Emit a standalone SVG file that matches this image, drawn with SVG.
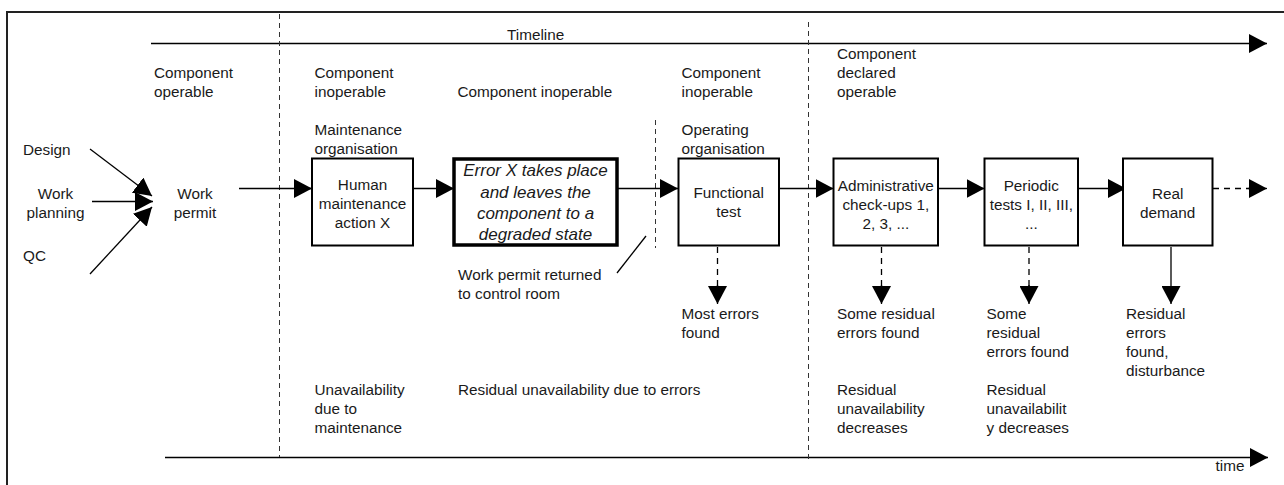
<svg xmlns="http://www.w3.org/2000/svg" width="1284" height="485" viewBox="0 0 1284 485">
<style>
text{font-family:"Liberation Sans",Arial,sans-serif;font-size:15.3px;fill:#1a1a1a}
.c{text-anchor:middle}
.it{font-style:italic;font-size:17px}
.box{fill:#fff;stroke:#000;stroke-width:2}
.thick{stroke-width:3.5}
.ln{stroke:#000;stroke-width:1.3;fill:none}
.dash{stroke:#333;stroke-width:1;fill:none;stroke-dasharray:5 4}
.dl{stroke:#000;stroke-width:1.3;fill:none;stroke-dasharray:6 5}
</style>
<defs>
<marker id="ah" markerUnits="userSpaceOnUse" markerWidth="19" markerHeight="19" refX="18" refY="9.5" orient="auto" viewBox="0 0 19 19">
<path d="M0,0 L18,9.5 L0,19 z" fill="#000"/>
</marker>
</defs>
<rect x="7" y="12" width="1300" height="500" fill="#fff" stroke="#222" stroke-width="2"/>
<g id="connectors">
<line class="ln" x1="151" y1="43.5" x2="1267" y2="43.5" marker-end="url(#ah)"/>
<line class="ln" x1="165" y1="457.5" x2="1268" y2="457.5" marker-end="url(#ah)"/>
<line class="dash" x1="279.5" y1="14" x2="279.5" y2="457"/>
<line class="dash" x1="808.5" y1="22" x2="808.5" y2="459"/>
<line class="dash" x1="655.5" y1="120" x2="655.5" y2="248"/>
<line class="ln" x1="90" y1="149" x2="152" y2="196" marker-end="url(#ah)"/>
<line class="ln" x1="92" y1="201.5" x2="153" y2="201.5" marker-end="url(#ah)"/>
<line class="ln" x1="90" y1="274" x2="152" y2="207" marker-end="url(#ah)"/>
<line class="ln" x1="239" y1="188.5" x2="312" y2="188.5" marker-end="url(#ah)"/>
<line class="ln" x1="413" y1="188.5" x2="454" y2="188.5" marker-end="url(#ah)"/>
<line class="ln" x1="617" y1="188.5" x2="678" y2="188.5" marker-end="url(#ah)"/>
<line class="ln" x1="779" y1="188.5" x2="833.5" y2="188.5" marker-end="url(#ah)"/>
<line class="ln" x1="938" y1="188.5" x2="984.5" y2="188.5" marker-end="url(#ah)"/>
<line class="ln" x1="1078" y1="188.5" x2="1126" y2="188.5" marker-end="url(#ah)"/>
<line class="dl" x1="1213" y1="188.5" x2="1250" y2="188.5"/>
<line class="ln" x1="1248" y1="188.5" x2="1267" y2="188.5" marker-end="url(#ah)"/>
<line class="dl" x1="717.5" y1="247" x2="717.5" y2="290"/>
<line class="ln" x1="717.5" y1="285" x2="717.5" y2="304" marker-end="url(#ah)"/>
<line class="dl" x1="881.5" y1="247" x2="881.5" y2="290"/>
<line class="ln" x1="881.5" y1="285" x2="881.5" y2="304" marker-end="url(#ah)"/>
<line class="dl" x1="1029" y1="247" x2="1029" y2="290"/>
<line class="ln" x1="1029" y1="285" x2="1029" y2="304" marker-end="url(#ah)"/>
<line class="ln" x1="1171" y1="247" x2="1171" y2="304" marker-end="url(#ah)"/>
<line class="ln" x1="617" y1="273" x2="646" y2="236"/>
</g>
<g id="labels">
<text x="507" y="39.5">Timeline</text>
<text x="154" y="77.5">Component</text>
<text x="154" y="96.5">operable</text>
<text x="314.5" y="77.5">Component</text>
<text x="314.5" y="96.5">inoperable</text>
<text x="314.5" y="135">Maintenance</text>
<text x="314.5" y="154">organisation</text>
<text x="457.5" y="96.5">Component inoperable</text>
<text x="681.5" y="77.5">Component</text>
<text x="681.5" y="96.5">inoperable</text>
<text x="681.5" y="135">Operating</text>
<text x="681.5" y="154">organisation</text>
<text x="837" y="59">Component</text>
<text x="837" y="78">declared</text>
<text x="837" y="97">operable</text>
<text x="23" y="155">Design</text>
<text class="c" x="55.5" y="199">Work</text>
<text class="c" x="55.5" y="218">planning</text>
<text x="23" y="261">QC</text>
<text class="c" x="195" y="199">Work</text>
<text class="c" x="195" y="218">permit</text>
<text x="458" y="280">Work permit returned</text>
<text x="458" y="299">to control room</text>
<text x="681.5" y="318.5">Most errors</text>
<text x="681.5" y="337.5">found</text>
<text x="837" y="318.5">Some residual</text>
<text x="837" y="337.5">errors found</text>
<text x="986.5" y="318.5">Some</text>
<text x="986.5" y="337.5">residual</text>
<text x="986.5" y="356.5">errors found</text>
<text x="1126" y="318.5">Residual</text>
<text x="1126" y="337.5">errors</text>
<text x="1126" y="356.5">found,</text>
<text x="1126" y="375.5">disturbance</text>
<text x="314.5" y="395">Unavailability</text>
<text x="314.5" y="414">due to</text>
<text x="314.5" y="433">maintenance</text>
<text x="458" y="395">Residual unavailability due to errors</text>
<text x="837" y="395">Residual</text>
<text x="837" y="414">unavailability</text>
<text x="837" y="433">decreases</text>
<text x="986.5" y="395">Residual</text>
<text x="986.5" y="414">unavailabilit</text>
<text x="986.5" y="433">y decreases</text>
<text x="1215.5" y="471">time</text>
</g>
<g id="human">
<rect class="box" x="312" y="158.5" width="101" height="87"/>
<text class="c" x="362.5" y="190">Human</text>
<text class="c" x="362.5" y="209">maintenance</text>
<text class="c" x="362.5" y="228">action X</text>
</g>
<g id="error">
<rect class="box thick" x="454" y="159" width="163" height="86"/>
<text class="c it" x="535.5" y="176">Error X takes place</text>
<text class="c it" x="535.5" y="197.5">and leaves the</text>
<text class="c it" x="535.5" y="218.5">component to a</text>
<text class="c it" x="535.5" y="239.5">degraded state</text>
</g>
<g id="functional">
<rect class="box" x="678.5" y="158.5" width="100.5" height="87"/>
<text class="c" x="728.7" y="198">Functional</text>
<text class="c" x="728.7" y="217">test</text>
</g>
<g id="admin">
<rect class="box" x="833.5" y="158.5" width="104.5" height="87"/>
<text class="c" x="885.8" y="190.5">Administrative</text>
<text class="c" x="885.8" y="209.5">check-ups 1,</text>
<text class="c" x="885.8" y="228.5">2, 3, ...</text>
</g>
<g id="periodic">
<rect class="box" x="984.5" y="158.5" width="93.5" height="87"/>
<text class="c" x="1031.3" y="190.5">Periodic</text>
<text class="c" x="1031.3" y="209.5">tests I, II, III,</text>
<text class="c" x="1031.3" y="228.5">...</text>
</g>
<g id="demand">
<rect class="box" x="1123" y="158.5" width="89.5" height="87"/>
<text class="c" x="1167.7" y="199">Real</text>
<text class="c" x="1167.7" y="218">demand</text>
</g>
</svg>
